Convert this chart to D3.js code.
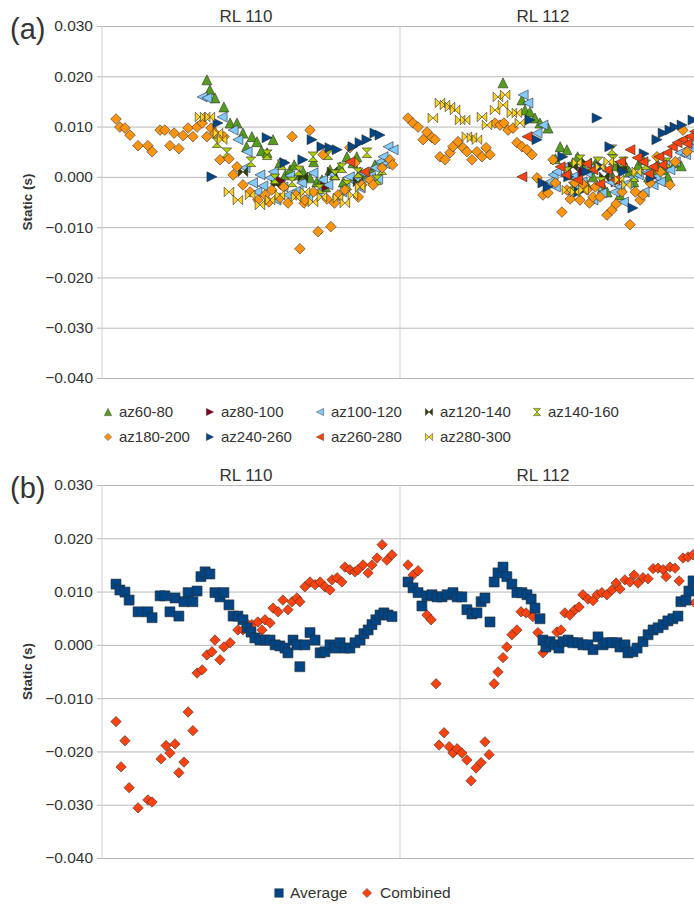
<!DOCTYPE html>
<html>
<head>
<meta charset="utf-8">
<script src="https://cdn.jsdelivr.net/npm/d3@7"></script>
<style>
  body { margin: 0; background: #fff; }
  text { font-family: "Liberation Sans", Arial, sans-serif; fill: #333; }
</style>
</head>
<body>
<div id="chart"></div>
<script>
// facet names and y ticks
const facets = ["RL 110", "RL 112"];
const yTicks = [0.03, 0.02, 0.01, 0, -0.01, -0.02, -0.03, -0.04];

// ---- panel (a): [position in facet (0-100), static (s)] ----
const az60_80_rl110 = [[35.2,0.0193],[36.2,0.0173],[37.9,0.0157],[40.9,0.0139],[43.0,0.0107],[45.3,0.0107],[47.3,0.0087],[48.5,0.0060],[50.3,0.0080],[52.0,0.0070],[53.5,0.0052],[55.4,0.0048],[57.4,0.0074],[59.7,0.0028],[61.5,0.0004],[63.1,0.0014],[64.5,0.0024],[66.4,0.0004],[67.5,0.0010],[69.8,-0.0002],[71.0,0.0030],[72.1,-0.0010],[73.8,-0.0006],[75.0,-0.0020],[76.5,0.0014],[78.0,0.0004],[79.9,0.0020],[81.0,-0.0010],[82.2,0.0040],[84.2,0.0028],[85.5,0.0040],[86.6,0.0010],[88.9,0.0004],[90.5,0.0010],[91.6,0.0024],[94.3,0.0030]];
const az60_80_rl112 = [[34.8,0.0187],[41.2,0.0153],[42.2,0.0133],[43.9,0.0129],[45.6,0.0117],[47.3,0.0107],[50.0,0.0097],[52.5,0.0036],[54.1,0.0060],[56.4,0.0054],[57.5,0.0004],[58.4,0.0028],[60.0,0.0040],[61.8,0.0020],[63.0,-0.0014],[65.2,0.0000],[66.0,0.0026],[68.6,-0.0020],[70.0,-0.0030],[71.0,0.0010],[73.0,0.0022],[74.3,-0.0036],[76.0,0.0024],[77.5,0.0010],[79.0,-0.0010],[80.5,0.0024],[82.1,0.0034],[84.0,0.0000],[85.5,0.0014],[87.0,0.0026],[88.9,0.0014],[90.5,0.0000],[92.9,0.0028],[95.0,0.0022]];

const az80_100_rl110 = [[60.0,-0.0008],[75.0,-0.0020]];
const az80_100_rl112 = [[62.0,0.0010],[73.0,-0.0010]];

const az100_120_rl110 = [[33.6,0.0159],[35.2,0.0157],[40.3,0.0119],[44.0,0.0093],[45.6,0.0074],[48.0,0.0018],[48.7,0.0050],[50.5,-0.0012],[52.0,-0.0030],[53.0,0.0004],[54.0,-0.0018],[56.4,-0.0002],[57.5,0.0010],[58.4,-0.0046],[60.7,-0.0020],[62.4,-0.0036],[63.0,0.0002],[65.8,-0.0026],[67.0,-0.0012],[69.0,-0.0040],[70.8,0.0008],[72.1,-0.0030],[74.0,-0.0006],[75.8,-0.0016],[77.0,0.0006],[78.9,-0.0040],[80.5,-0.0030],[81.5,-0.0022],[83.0,0.0000],[84.9,-0.0010],[86.6,-0.0022],[87.5,0.0008],[88.9,-0.0006],[90.0,0.0002],[91.6,0.0018],[92.5,-0.0004],[93.3,0.0030],[94.3,0.0040],[95.0,0.0026],[96.0,0.0060],[97.7,0.0054]];
const az100_120_rl112 = [[41.6,0.0163],[43.2,0.0147],[46.3,0.0087],[48.3,0.0103],[50.5,-0.0010],[51.7,0.0004],[52.5,-0.0020],[53.0,0.0010],[55.7,0.0020],[57.0,-0.0030],[58.4,0.0000],[60.0,-0.0020],[61.5,-0.0010],[63.2,0.0008],[64.0,0.0016],[65.2,-0.0046],[66.5,-0.0020],[68.2,-0.0032],[70.0,0.0012],[71.0,-0.0010],[72.5,-0.0030],[74.3,-0.0020],[75.5,-0.0050],[77.0,-0.0012],[78.7,0.0000],[80.5,0.0004],[82.5,-0.0030],[83.4,0.0008],[85.5,-0.0016],[86.5,0.0000],[88.0,-0.0010],[89.5,0.0024],[91.2,0.0014],[93.0,0.0030],[94.6,0.0048],[96.5,0.0044],[98.0,0.0058],[99.0,0.0070]];

const az120_140_rl110 = [[47.3,0.0010],[58.4,-0.0016],[67.4,0.0000],[77.2,0.0010],[85.9,-0.0010]];
const az120_140_rl112 = [[58.4,0.0020],[63.0,0.0028],[69.0,0.0000],[75.0,0.0018]];

const az140_160_rl110 = [[38.6,0.0068],[41.9,0.0048],[50.0,0.0030],[55.4,0.0044],[58.0,-0.0004],[60.4,0.0024],[63.8,-0.0010],[66.0,0.0012],[70.8,0.0040],[73.0,-0.0024],[75.8,0.0044],[78.2,0.0004],[80.5,0.0018],[82.2,-0.0016],[86.0,0.0008],[88.9,0.0048],[92.3,-0.0006],[94.0,0.0014]];
const az140_160_rl112 = [[56.4,0.0010],[58.5,-0.0020],[60.8,0.0034],[64.0,0.0020],[66.9,0.0030],[68.0,-0.0010],[71.6,0.0054],[72.0,0.0034],[75.5,0.0030],[79.0,0.0000],[83.0,0.0024],[90.0,0.0028]];

const az180_200_rl110 = [[4.7,0.0115],[6.0,0.0099],[7.7,0.0097],[9.4,0.0083],[12.1,0.0062],[15.4,0.0062],[16.8,0.0050],[19.5,0.0093],[21.1,0.0093],[22.8,0.0062],[24.2,0.0087],[25.8,0.0056],[27.2,0.0082],[28.9,0.0097],[30.5,0.0080],[31.9,0.0099],[33.6,0.0107],[35.2,0.0080],[36.6,0.0097],[37.9,0.0087],[39.6,0.0034],[40.9,0.0080],[42.6,0.0036],[44.0,0.0004],[45.3,0.0020],[47.3,-0.0016],[49.7,-0.0030],[52.3,-0.0046],[54.7,-0.0036],[56.0,-0.0050],[57.0,-0.0026],[59.7,-0.0042],[61.0,-0.0020],[62.4,-0.0052],[63.8,0.0080],[65.1,-0.0036],[66.4,-0.0143],[67.8,-0.0052],[68.1,-0.0046],[69.8,0.0093],[71.0,-0.0030],[72.5,-0.0109],[74.2,0.0044],[75.5,-0.0044],[76.8,-0.0099],[78.0,-0.0052],[79.2,-0.0036],[81.5,-0.0026],[83.2,0.0058],[84.9,0.0028],[86.0,-0.0040],[87.2,-0.0016],[89.9,-0.0006],[91.0,-0.0016],[94.0,0.0018],[96.6,0.0034],[97.5,0.0024]];
const az180_200_rl112 = [[2.7,0.0117],[4.4,0.0107],[6.1,0.0099],[7.8,0.0074],[9.1,0.0089],[10.8,0.0078],[11.8,0.0074],[13.5,0.0040],[15.2,0.0034],[16.9,0.0048],[17.9,0.0060],[19.6,0.0070],[21.3,0.0058],[22.6,0.0050],[24.3,0.0034],[26.0,0.0050],[27.7,0.0040],[29.1,0.0058],[30.4,0.0044],[32.1,0.0107],[33.8,0.0103],[35.1,0.0107],[36.5,0.0093],[38.2,0.0097],[39.5,0.0068],[41.2,0.0060],[42.9,0.0054],[44.6,0.0044],[46.3,-0.0002],[48.3,-0.0036],[50.0,-0.0032],[51.7,0.0034],[52.5,-0.0012],[54.7,-0.0070],[56.4,-0.0026],[57.5,-0.0044],[59.1,-0.0012],[60.8,-0.0046],[62.0,-0.0016],[63.2,-0.0026],[64.0,-0.0052],[65.2,-0.0040],[66.0,-0.0020],[67.6,-0.0040],[69.9,-0.0076],[71.6,-0.0066],[73.0,-0.0054],[75.0,-0.0030],[77.7,-0.0095],[79.5,-0.0030],[81.1,-0.0046],[82.1,-0.0036],[84.5,-0.0012],[86.8,0.0040],[88.0,0.0010],[91.2,-0.0016],[93.0,0.0030],[95.6,0.0093],[97.0,0.0050]];

const az240_260_rl110 = [[36.9,0.0000],[38.9,0.0107],[55.4,0.0078],[61.4,0.0028],[67.4,0.0034],[70.5,0.0074],[73.8,0.0060],[76.5,0.0058],[78.9,0.0054],[84.2,0.0060],[86.6,0.0068],[88.9,0.0074],[91.6,0.0087],[93.3,0.0083]];
const az240_260_rl112 = [[43.9,0.0113],[46.3,0.0074],[48.3,-0.0012],[50.0,-0.0020],[55.0,0.0040],[57.0,0.0000],[60.5,-0.0030],[63.0,0.0010],[66.6,0.0117],[68.0,0.0020],[70.9,0.0060],[75.5,0.0010],[78.7,-0.0062],[82.5,0.0046],[85.0,-0.0002],[86.8,0.0074],[88.9,0.0087],[91.2,0.0093],[92.9,0.0099],[95.3,0.0103],[99.0,0.0113]];

const az260_280_rl110 = [[83.2,0.0030],[88.0,0.0010]];
const az260_280_rl112 = [[41.2,0.0000],[42.9,0.0080],[54.1,0.0020],[56.0,0.0004],[60.0,-0.0006],[63.0,0.0026],[65.2,0.0014],[67.5,-0.0014],[70.0,0.0014],[72.5,-0.0006],[74.5,0.0030],[77.7,0.0054],[80.1,0.0038],[82.1,0.0030],[84.0,0.0006],[85.5,0.0020],[87.5,0.0040],[88.5,0.0024],[90.2,0.0048],[92.0,0.0060],[93.6,0.0068],[95.6,0.0074],[97.0,0.0066],[98.0,0.0080],[99.5,0.0090]];

const az280_300_rl110 = [[32.9,0.0119],[34.6,0.0119],[36.2,0.0119],[38.9,0.0087],[40.3,0.0074],[42.6,-0.0030],[45.6,-0.0046],[49.7,-0.0036],[53.0,-0.0056],[56.4,-0.0046],[59.7,-0.0036],[65.1,-0.0040],[68.1,-0.0030],[70.8,-0.0050],[73.8,-0.0040],[79.2,-0.0042],[81.5,-0.0052],[84.2,-0.0036],[86.6,-0.0020]];
const az280_300_rl112 = [[11.1,0.0117],[13.5,0.0147],[15.2,0.0143],[16.9,0.0139],[18.6,0.0133],[20.3,0.0113],[22.0,0.0113],[22.6,0.0080],[24.3,0.0078],[26.0,0.0074],[27.7,0.0119],[29.4,0.0103],[32.1,0.0133],[33.1,0.0159],[34.8,0.0143],[35.5,0.0163],[37.8,0.0127],[39.5,0.0127],[40.5,0.0107],[56.4,-0.0026],[59.1,-0.0030],[59.8,0.0028],[62.0,-0.0026],[67.6,0.0020],[70.5,0.0030],[74.0,-0.0006],[76.5,-0.0016],[80.0,0.0010]];

// ---- panel (b) ----
const average_rl110 = [[4.7,0.0114],[6.0,0.0103],[7.7,0.0099],[9.1,0.0084],[12.1,0.0062],[15.4,0.0062],[16.8,0.0051],[19.5,0.0092],[21.1,0.0092],[22.8,0.0062],[24.5,0.0088],[25.8,0.0054],[27.5,0.0081],[28.9,0.0098],[30.5,0.0081],[31.9,0.0101],[33.2,0.0128],[34.6,0.0137],[36.2,0.0133],[37.9,0.0098],[39.6,0.0090],[40.9,0.0098],[42.6,0.0075],[44.0,0.0054],[45.6,0.0054],[47.3,0.0047],[48.7,0.0032],[50.0,0.0024],[51.3,0.0013],[53.0,0.0009],[54.7,0.0009],[56.4,0.0009],[58.1,0.0000],[59.7,-0.0002],[61.4,-0.0006],[62.4,-0.0015],[64.1,0.0009],[65.4,0.0000],[66.4,-0.0041],[68.1,0.0000],[69.8,0.0023],[71.5,0.0009],[73.2,-0.0015],[74.8,-0.0013],[76.5,0.0000],[78.2,-0.0006],[79.9,0.0004],[81.5,-0.0006],[83.2,-0.0006],[84.9,0.0004],[86.6,0.0009],[87.9,0.0021],[89.3,0.0028],[90.6,0.0038],[91.9,0.0047],[93.3,0.0056],[94.6,0.0060],[96.0,0.0056],[97.3,0.0053]];
const average_rl112 = [[2.7,0.0118],[4.4,0.0107],[6.1,0.0098],[7.4,0.0073],[9.1,0.0092],[10.8,0.0094],[12.5,0.0090],[14.2,0.0090],[15.9,0.0094],[17.9,0.0098],[19.3,0.0090],[20.9,0.0090],[22.6,0.0066],[24.3,0.0058],[26.0,0.0060],[27.4,0.0081],[28.7,0.0088],[30.4,0.0043],[31.8,0.0118],[33.1,0.0135],[34.8,0.0146],[36.1,0.0128],[37.8,0.0114],[39.5,0.0098],[41.2,0.0098],[42.9,0.0094],[44.3,0.0086],[45.6,0.0069],[47.3,0.0049],[48.3,0.0009],[49.3,-0.0004],[50.7,0.0006],[52.4,0.0000],[53.7,-0.0006],[55.1,0.0006],[56.8,0.0009],[58.4,0.0004],[60.1,0.0004],[61.8,0.0000],[63.5,0.0000],[65.2,-0.0009],[66.9,0.0015],[68.6,0.0000],[69.9,0.0004],[71.6,0.0004],[73.3,0.0004],[74.3,-0.0004],[76.0,0.0000],[77.0,-0.0015],[78.7,-0.0013],[80.1,-0.0006],[82.1,0.0006],[83.8,0.0019],[85.5,0.0028],[87.2,0.0032],[88.9,0.0038],[90.5,0.0045],[92.2,0.0049],[93.9,0.0054],[94.9,0.0081],[96.6,0.0084],[97.6,0.0101],[99.0,0.0120]];
const combined_rl110 = [[4.7,-0.0144],[6.4,-0.0229],[7.7,-0.0180],[9.1,-0.0268],[12.1,-0.0306],[15.4,-0.0291],[16.8,-0.0295],[19.8,-0.0214],[21.5,-0.0189],[22.8,-0.0203],[24.5,-0.0186],[25.8,-0.0240],[27.5,-0.0220],[28.9,-0.0126],[30.5,-0.0161],[31.9,-0.0053],[33.6,-0.0047],[35.2,-0.0019],[36.9,-0.0013],[37.9,0.0009],[39.6,-0.0028],[40.9,-0.0004],[43.0,0.0004],[45.6,0.0028],[47.3,0.0028],[49.0,0.0038],[50.3,0.0038],[52.3,0.0043],[53.7,0.0028],[54.7,0.0047],[56.4,0.0041],[57.4,0.0069],[59.1,0.0062],[60.7,0.0084],[62.4,0.0066],[63.8,0.0081],[65.4,0.0088],[66.4,0.0081],[68.1,0.0109],[69.8,0.0118],[71.5,0.0113],[73.2,0.0118],[74.8,0.0109],[76.5,0.0103],[77.2,0.0122],[78.9,0.0126],[80.5,0.0118],[81.5,0.0146],[83.2,0.0141],[84.9,0.0137],[85.9,0.0141],[87.6,0.0150],[89.3,0.0135],[90.6,0.0150],[92.3,0.0163],[94.0,0.0188],[95.6,0.0159],[97.3,0.0169]];
const combined_rl112 = [[2.7,0.0150],[4.4,0.0131],[6.1,0.0139],[9.1,0.0056],[10.5,0.0047],[12.2,-0.0073],[13.2,-0.0188],[14.9,-0.0165],[16.6,-0.0191],[17.9,-0.0203],[19.3,-0.0195],[20.9,-0.0203],[22.6,-0.0216],[24.0,-0.0255],[25.7,-0.0231],[27.4,-0.0221],[28.7,-0.0182],[30.1,-0.0206],[31.8,-0.0073],[33.1,-0.0051],[34.8,-0.0024],[36.1,-0.0004],[37.8,0.0019],[39.5,0.0028],[40.9,0.0062],[42.6,0.0060],[44.9,0.0053],[46.6,0.0023],[48.3,-0.0015],[53.0,0.0024],[54.4,0.0028],[55.7,0.0060],[57.4,0.0056],[59.1,0.0066],[60.5,0.0071],[61.8,0.0094],[63.5,0.0086],[65.2,0.0083],[66.6,0.0094],[68.2,0.0098],[69.9,0.0094],[71.6,0.0103],[73.0,0.0116],[74.3,0.0105],[76.0,0.0122],[77.7,0.0118],[79.1,0.0131],[80.4,0.0116],[82.1,0.0126],[83.8,0.0124],[85.5,0.0143],[87.2,0.0144],[88.9,0.0141],[89.9,0.0128],[91.2,0.0146],[92.9,0.0144],[94.3,0.0120],[95.6,0.0163],[97.3,0.0165],[99.0,0.0169],[99.6,0.0079]];

// series tables (style + data)
const seriesA = [
  { name: "az60-80",   shape: "up",      color: "#579d1c", data: [az60_80_rl110, az60_80_rl112] },
  { name: "az80-100",  shape: "right",   color: "#7e0021", data: [az80_100_rl110, az80_100_rl112] },
  { name: "az100-120", shape: "left",    color: "#83caff", data: [az100_120_rl110, az100_120_rl112] },
  { name: "az120-140", shape: "bowtie",  color: "#314004", data: [az120_140_rl110, az120_140_rl112] },
  { name: "az140-160", shape: "sandglass", color: "#aecf00", data: [az140_160_rl110, az140_160_rl112] },
  { name: "az180-200", shape: "diamond", color: "#ff950e", data: [az180_200_rl110, az180_200_rl112] },
  { name: "az240-260", shape: "right",   color: "#004586", data: [az240_260_rl110, az240_260_rl112] },
  { name: "az260-280", shape: "left",    color: "#ff420e", data: [az260_280_rl110, az260_280_rl112] },
  { name: "az280-300", shape: "bowtie",  color: "#ffd320", data: [az280_300_rl110, az280_300_rl112] }
];
const seriesB = [
  { name: "Average",  shape: "square",  color: "#004586", data: [average_rl110, average_rl112] },
  { name: "Combined", shape: "diamond", color: "#ff420e", data: [combined_rl110, combined_rl112] }
];

function shapePath(shape, h) {
  switch (shape) {
    case "up": return `M0,${-h}L${h},${h}L${-h},${h}Z`;
    case "right": return `M${-h},${-h}L${h},0L${-h},${h}Z`;
    case "left": return `M${h},${-h}L${-h},0L${h},${h}Z`;
    case "diamond": return `M0,${-h}L${h},0L0,${h}L${-h},0Z`;
    case "square": return `M${-h},${-h}H${h}V${h}H${-h}Z`;
    case "bowtie": return `M${-h},${-h}L${h},${h}L${h},${-h}L${-h},${h}Z`;
    case "sandglass": return `M${-h},${-h}L${h},${-h}L${-h},${h}L${h},${h}Z`;
  }
}

const svg = d3.select("#chart").append("svg")
  .attr("width", 694)
  .attr("height", 908);

const xScales = [
  d3.scaleLinear().domain([0, 100]).range([102, 400]),
  d3.scaleLinear().domain([0, 100]).range([400, 696])
];

function drawPanel(label, yScale, series, sizes, drawOrder) {
  const g = svg.append("g");
  const top = yScale.range()[1], bottom = yScale.range()[0];
  const left = xScales[0].range()[0], right = xScales[1].range()[1];

  // gridlines
  g.append("g")
    .attr("transform", `translate(${left},0)`)
    .call(d3.axisLeft(yScale).tickValues(yTicks).tickSize(-(right - left)).tickFormat(""))
    .call(a => a.select(".domain").remove())
    .call(a => a.selectAll("line").attr("stroke", "#b8b8b8"));

  // ticks and labels
  g.append("g")
    .attr("transform", `translate(${left},0)`)
    .call(d3.axisLeft(yScale).tickValues(yTicks).tickSize(5).tickPadding(4).tickFormat(d3.format(".3f")))
    .call(a => a.select(".domain").remove())
    .call(a => a.selectAll("line").attr("stroke", "#b8b8b8"))
    .call(a => a.selectAll("text").style("font-size", "15.5px").attr("fill", "#333"));

  // facet borders
  xScales.forEach(xs => {
    g.append("line")
      .attr("x1", xs.range()[0]).attr("x2", xs.range()[0])
      .attr("y1", top).attr("y2", bottom)
      .attr("stroke", "#cfcfcf");
  });

  // facet titles
  facets.forEach((f, i) => {
    const xs = xScales[i];
    g.append("text")
      .attr("x", (xs.range()[0] + xs.range()[1]) / 2 - 5)
      .attr("y", top - 4)
      .attr("text-anchor", "middle")
      .style("font-size", "17px")
      .text(f);
  });

  // panel label
  g.append("text")
    .attr("x", 10)
    .attr("y", top + 13)
    .style("font-size", "29px")
    .attr("fill", "#000")
    .text(label);

  // axis title
  g.append("text")
    .attr("transform", `translate(32,${yScale(-0.005)}) rotate(-90)`)
    .attr("text-anchor", "middle")
    .style("font-size", "13.5px")
    .style("font-weight", "bold")
    .text("Static (s)");

  // points
  drawOrder.forEach(si => {
    const s = series[si];
    s.data.forEach((pts, fi) => {
      g.append("g").selectAll("path")
        .data(pts)
        .enter().append("path")
        .attr("transform", d => `translate(${xScales[fi](d[0])},${yScale(d[1])})`)
        .attr("d", shapePath(s.shape, sizes[s.shape] || 5))
        .attr("fill", s.color)
        .attr("stroke", "#2e2e2e")
        .attr("stroke-width", 0.7)
        .attr("stroke-opacity", 0.85);
    });
  });
  return g;
}

const yA = d3.scaleLinear().domain([-0.04, 0.03]).range([378, 26]);
const yB = d3.scaleLinear().domain([-0.04, 0.03]).range([858, 485]);

drawPanel("(a)", yA, seriesA, { diamond: 5.3, up: 5, right: 5, left: 5, bowtie: 4.8, sandglass: 4.8 }, d3.range(seriesA.length));
drawPanel("(b)", yB, seriesB, { square: 5, diamond: 5.2 }, [1, 0]);

// legend (a): two rows of five
const legA = svg.append("g");
const legCols = [108, 210, 320, 429, 537];
seriesA.forEach((s, i) => {
  const row = i < 5 ? 0 : 1;
  const col = i < 5 ? i : i - 5;
  const y = 412 + row * 25;
  legA.append("path")
    .attr("transform", `translate(${legCols[col]},${y})`)
    .attr("d", shapePath(s.shape, 3.6))
    .attr("fill", s.color)
    .attr("stroke", "#3a3a3a")
    .attr("stroke-width", 0.5);
  legA.append("text")
    .attr("x", legCols[col] + 11)
    .attr("y", y)
    .attr("dy", "0.35em")
    .style("font-size", "15px")
    .text(s.name);
});

// legend (b)
const legB = svg.append("g");
const legBCols = [279, 367];
seriesB.forEach((s, i) => {
  legB.append("path")
    .attr("transform", `translate(${legBCols[i]},893)`)
    .attr("d", shapePath(s.shape, s.shape === "square" ? 4.3 : 4.6))
    .attr("fill", s.color)
    .attr("stroke", "#3a3a3a")
    .attr("stroke-width", 0.5);
  legB.append("text")
    .attr("x", legBCols[i] + (i === 0 ? 11 : 13))
    .attr("y", 893)
    .attr("dy", "0.35em")
    .style("font-size", "15.5px")
    .text(s.name);
});
</script>
</body>
</html>
